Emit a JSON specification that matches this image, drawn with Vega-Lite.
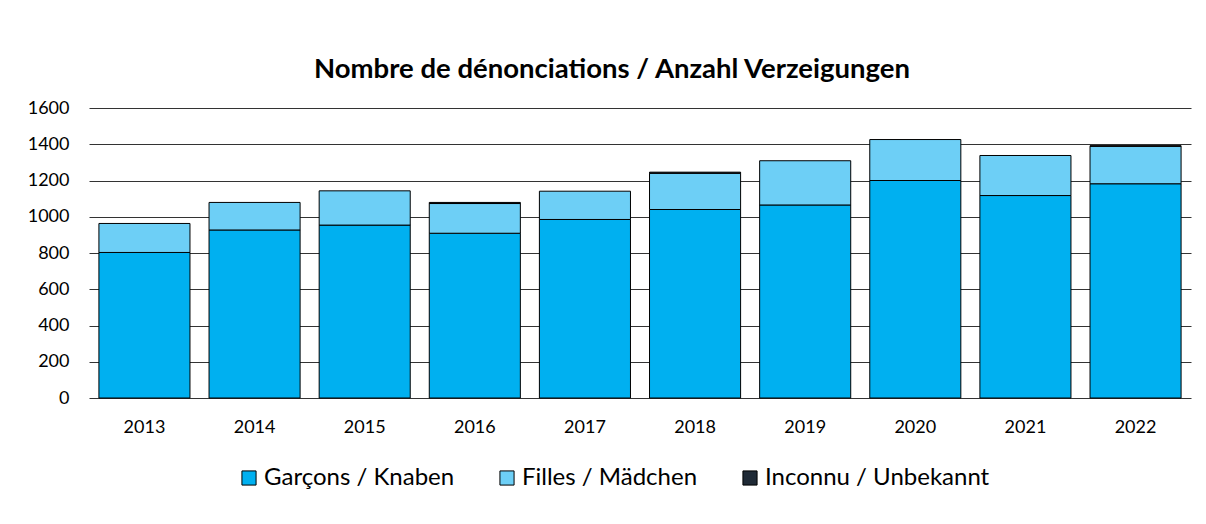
{
  "$schema": "https://vega.github.io/schema/vega-lite/v6.json",
  "width": 1102,
  "height": 290,
  "autosize": {"type": "none"},
  "padding": {"left": 89, "top": 108, "right": 15, "bottom": 126},
  "background": "white",
  "title": {
    "text": "Nombre de dénonciations / Anzahl Verzeigungen",
    "font": "Lato",
    "fontSize": 27.5,
    "fontWeight": "bold",
    "color": "black",
    "anchor": "middle",
    "frame": "group",
    "offset": 16,
    "dx": -28
  },
  "data": {
    "values": [
      {"year": "2013", "category": "Garçons / Knaben", "order": 1, "value": 803},
      {"year": "2013", "category": "Filles / Mädchen", "order": 2, "value": 160},
      {"year": "2014", "category": "Garçons / Knaben", "order": 1, "value": 927},
      {"year": "2014", "category": "Filles / Mädchen", "order": 2, "value": 152},
      {"year": "2015", "category": "Garçons / Knaben", "order": 1, "value": 954},
      {"year": "2015", "category": "Filles / Mädchen", "order": 2, "value": 189},
      {"year": "2016", "category": "Garçons / Knaben", "order": 1, "value": 909},
      {"year": "2016", "category": "Filles / Mädchen", "order": 2, "value": 164},
      {"year": "2016", "category": "Inconnu / Unbekannt", "order": 3, "value": 6},
      {"year": "2017", "category": "Garçons / Knaben", "order": 1, "value": 985},
      {"year": "2017", "category": "Filles / Mädchen", "order": 2, "value": 156},
      {"year": "2018", "category": "Garçons / Knaben", "order": 1, "value": 1040},
      {"year": "2018", "category": "Filles / Mädchen", "order": 2, "value": 200},
      {"year": "2018", "category": "Inconnu / Unbekannt", "order": 3, "value": 6},
      {"year": "2019", "category": "Garçons / Knaben", "order": 1, "value": 1065},
      {"year": "2019", "category": "Filles / Mädchen", "order": 2, "value": 244},
      {"year": "2020", "category": "Garçons / Knaben", "order": 1, "value": 1200},
      {"year": "2020", "category": "Filles / Mädchen", "order": 2, "value": 226},
      {"year": "2021", "category": "Garçons / Knaben", "order": 1, "value": 1117},
      {"year": "2021", "category": "Filles / Mädchen", "order": 2, "value": 221},
      {"year": "2022", "category": "Garçons / Knaben", "order": 1, "value": 1182},
      {"year": "2022", "category": "Filles / Mädchen", "order": 2, "value": 207},
      {"year": "2022", "category": "Inconnu / Unbekannt", "order": 3, "value": 3}
    ]
  },
  "mark": {"type": "bar", "stroke": "black", "strokeWidth": 1},
  "encoding": {
    "x": {
      "field": "year",
      "type": "ordinal",
      "scale": {"paddingInner": 0.173, "paddingOuter": 0.09},
      "axis": {
        "title": null,
        "labelAngle": 0,
        "ticks": false,
        "domain": false,
        "labelPadding": 20,
        "labelFont": "Lato",
        "labelFontSize": 18,
        "labelColor": "black"
      }
    },
    "y": {
      "field": "value",
      "type": "quantitative",
      "stack": "zero",
      "scale": {"domain": [0, 1600], "nice": false},
      "axis": {
        "title": null,
        "values": [0, 200, 400, 600, 800, 1000, 1200, 1400, 1600],
        "format": "d",
        "ticks": false,
        "domain": false,
        "grid": true,
        "gridColor": "#333333",
        "gridWidth": 1,
        "labelPadding": 20,
        "labelFont": "Lato",
        "labelFontSize": 18,
        "labelColor": "black"
      }
    },
    "color": {
      "field": "category",
      "type": "nominal",
      "scale": {
        "domain": ["Garçons / Knaben", "Filles / Mädchen", "Inconnu / Unbekannt"],
        "range": ["#00B0F0", "#6DCFF6", "#1F2A36"]
      },
      "legend": {
        "orient": "none",
        "legendX": 148,
        "legendY": 358,
        "direction": "horizontal",
        "title": null,
        "symbolType": "square",
        "symbolSize": 200,
        "symbolStrokeColor": "black",
        "symbolStrokeWidth": 1,
        "symbolOpacity": 1,
        "labelFont": "Lato",
        "labelFontSize": 24,
        "labelColor": "black",
        "labelLimit": 400,
        "labelOffset": 3,
        "columnPadding": 40
      }
    },
    "order": {"field": "order", "type": "quantitative"}
  },
  "config": {"view": {"stroke": null}}
}
